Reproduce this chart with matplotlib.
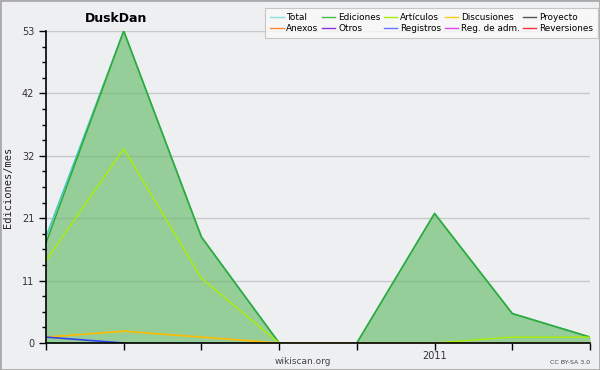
import matplotlib
matplotlib.use("Agg")
import matplotlib.pyplot as plt
from matplotlib.lines import Line2D
from matplotlib.patches import Rectangle
import numpy as np

months = ["2010-06", "2010-07", "2010-08", "2010-09", "2010-10", "2011", "2011-02", "2011-03"]
tick_labels = ["", "", "", "", "", "2011", "", ""]
total = [18, 53, 18, 0, 0, 22, 5, 1]
ediciones = [17, 53, 18, 0, 0, 22, 5, 1]
articulos = [14, 33, 11, 0, 0, 0, 1, 1]
discusiones = [1, 2, 1, 0, 0, 0, 0, 0]
registros = [1, 0, 0, 0, 0, 0, 0, 0]

legend_names = ["Total", "Anexos", "Ediciones", "Otros", "Artículos", "Registros",
                "Discusiones", "Reg. de adm.", "Proyecto", "Reversiones"]
legend_colors = ["#88e0e0", "#ff8833", "#44bb44", "#8833dd", "#aaee00", "#6677ff",
                 "#ffcc00", "#dd44ee", "#555555", "#ff3333"]

bg = "#eeeff1"
fig = plt.figure(figsize=(6, 3.7), dpi=100, facecolor=bg)
ax = fig.add_axes([46/600, 27/370, 544/600, 312/370])
ax.set_facecolor(bg)
x = np.arange(len(months))

ymax = 53
ax.set_xlim(0, len(months) - 1)
ax.set_ylim(0, ymax)

major = [ymax * i / 5 for i in range(6)]
ax.set_yticks(major)
ax.set_yticklabels([str(int(round(v))) for v in major])
ax.set_yticks([ymax * i / 20 for i in range(21)], minor=True)
ax.grid(axis="y", which="major", color="#c8c8c8", linewidth=1)
ax.set_axisbelow(True)

ax.fill_between(x, ediciones, 0, color="#5cb860", alpha=0.6, linewidth=0, zorder=2)
ax.plot(x, total, color="#44cccc", linewidth=1.2, zorder=3)
ax.plot(x, ediciones, color="#33aa33", linewidth=1.2, zorder=4)
ax.plot(x, articulos, color="#aaee00", linewidth=1.0, zorder=5)
ax.plot(x, discusiones, color="#ffbb00", linewidth=1.2, zorder=5)
ax.plot(x[:2], registros[:2], color="#3344ee", linewidth=1.2, zorder=5)

ax.set_xticks(x)
ax.set_xticklabels(tick_labels, fontsize=7, color="#333333")
ax.tick_params(axis="y", labelsize=7, colors="black", labelcolor="#333333", length=5, width=1)
ax.tick_params(axis="y", which="minor", length=3, width=1)
ax.tick_params(axis="x", length=5, width=1, pad=1)
for s in ["top", "right"]:
    ax.spines[s].set_visible(False)
for s in ["left", "bottom"]:
    ax.spines[s].set_linewidth(1.2)
    ax.spines[s].set_zorder(6)

ax.set_ylabel("Ediciones/mes", fontsize=7.5, color="#222222", labelpad=6,
              family="DejaVu Sans Mono")

fig.text(85/600, 1 - 18/370, "DuskDan", fontsize=9, fontweight="bold", va="center", ha="left")
fig.text(303/600, 1 - 361/370, "wikiscan.org", fontsize=6.5, color="#444444", ha="center", va="center")
fig.text(590/600, 1 - 362/370, "CC BY-SA 3.0", fontsize=4.5, color="#444444", ha="right", va="center")

handles = [Line2D([], [], color=c, linewidth=1) for c in legend_colors]
leg = fig.legend(handles, legend_names, loc="upper right", bbox_to_anchor=(598/600, 1 - 8/370),
                 ncol=5, fontsize=6.4, frameon=True, fancybox=False, handlelength=1.5,
                 handletextpad=0.3, columnspacing=0.4, labelspacing=0.25, borderpad=0.55,
                 borderaxespad=0)
leg.get_frame().set_facecolor("#fafafa")
leg.get_frame().set_edgecolor("#bbbbbb")
leg.get_frame().set_linewidth(0.8)

fig.patches.append(Rectangle((0, 0), 1, 1, transform=fig.transFigure, fill=False,
                             edgecolor="#aaaaaa", linewidth=2, zorder=10))

fig.savefig("out.png", dpi=100, facecolor=bg)
